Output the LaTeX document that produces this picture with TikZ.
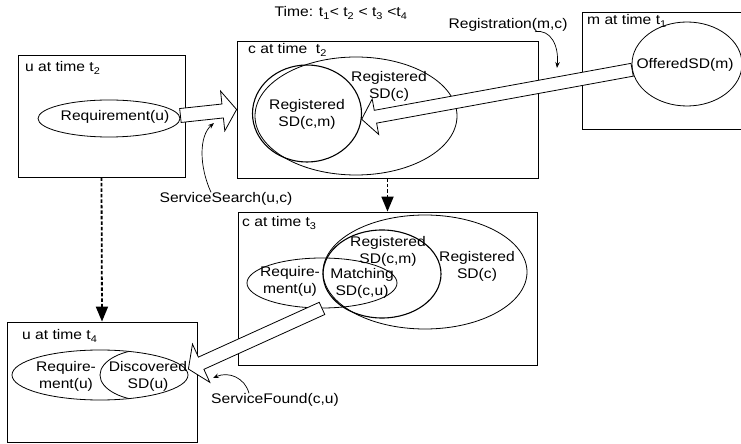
\documentclass[tikz,border=0pt]{standalone}
\usepackage{fontspec}
\setmainfont{Liberation Sans}[FakeStretch=1.12]
\usetikzlibrary{shapes.geometric,arrows.meta,calc}

% Broad hollow arrow: tail, tip, shaft half width, head half width, head length
\newcommand\fatarrow[5]{%
  \coordinate (fa-s) at #1;
  \coordinate (fa-e) at #2;
  \coordinate (fa-h) at ($(fa-e)!#5!(fa-s)$);
  \draw[hollow] ($(fa-s)!#3!90:(fa-e)$) -- ($(fa-h)!#3!90:(fa-e)$)
    -- ($(fa-h)!#4!90:(fa-e)$) -- (fa-e) -- ($(fa-h)!#4!-90:(fa-e)$)
    -- ($(fa-h)!#3!-90:(fa-e)$) -- ($(fa-s)!#3!-90:(fa-e)$) -- cycle;
}

\begin{document}
\begin{tikzpicture}[x=1bp,y=-1bp,
  font=\fontsize{14}{17}\selectfont,
  frame/.style={draw, line width=0.8bp, inner sep=0},
  blob/.style={ellipse, draw, line width=0.8bp, inner sep=0},
  hollow/.style={draw, fill=white, line width=0.8bp, line join=miter},
  lbl/.style={inner sep=0, align=center},
  boxlbl/.style={inner sep=0, anchor=west},
  dasharrow/.style={line width=1.8bp, dash pattern=on 3.5bp off 2bp,
    -{Triangle[width=12bp,length=15bp]}},
  thinarrow/.style={line width=0.7bp, -{Stealth[length=6bp,width=4.5bp]}}]

\useasboundingbox (0,0) rectangle (741,444);

% ---- containers ----
\node[frame, minimum width=167bp, minimum height=122bp] (ut2) at (101.5,116) {};
\node[frame, minimum width=301bp, minimum height=137bp] (ct2) at (387.5,109.5) {};
\node[frame, minimum width=299bp, minimum height=153bp] (ct3) at (387.5,288.5) {};
\node[frame, minimum width=190bp, minimum height=120bp] (ut4) at (102,382) {};
\coordinate (mt1) at (582,12);
\draw[line width=0.8bp] (741,12) -| (582,129) -- (741,129);

% ---- sets ----
\node[blob, minimum width=142bp, minimum height=37bp] (req2) at (109,118.5) {};
\node[blob, minimum width=202bp, minimum height=118bp] (regc2) at (356,116) {};
\node[blob, line width=1.1bp, minimum width=109bp, minimum height=97bp] (regcm2) at (307,113.5) {};
\node[blob, minimum width=110bp, minimum height=84bp] (offered) at (687,64) {};

\node[blob, minimum width=204bp, minimum height=114bp] (regc3) at (425,272) {};
\node[blob, line width=1.1bp, minimum width=118bp, minimum height=88bp] (regcm3) at (382,274) {};
\node[blob, minimum width=150bp, minimum height=50bp] (req3) at (322,283) {};

\node[blob, minimum width=176bp, minimum height=50bp] (req4) at (100,375) {};
\begin{scope}
  \clip (100,375) ellipse [x radius=88, y radius=25];
  \node[blob, minimum width=100bp, minimum height=52bp] (disc4) at (150,375) {};
\end{scope}

% ---- dotted transitions ----
\draw[dasharrow] (ut2.south) -- (ut4.north);
\draw[dasharrow] (ct2.south) -- (ct3.north);

% ---- broad message arrows ----
\fatarrow{([yshift=3bp]req2.east)}{(ct2.west)}{7bp}{20bp}{14bp}
\fatarrow{(offered.186)}{(regcm2.-6)}{6.5bp}{18bp}{14bp}
\fatarrow{(req3.south)}{([yshift=6bp]req4.east)}{6.7bp}{21bp}{14bp}

% ---- texts ----
\node[lbl] at (341,13) {Time: t\textsubscript{1}< t\textsubscript{2} < t\textsubscript{3} <t\textsubscript{4}};
\node[boxlbl] (lut2) at (25,68) {u at time t\textsubscript{2}};
\node[boxlbl] (lct2) at (248,50) {c at time\ \ t\textsubscript{2}};
\node[boxlbl] (lmt1) at (587,21) {m at time t\textsubscript{1}};
\node[boxlbl] (lct3) at (242,223) {c at time t\textsubscript{3}};
\node[boxlbl] (lut4) at (22,336) {u at time t\textsubscript{4}};

\node[lbl] (treq2) at (115,117) {Requirement(u)};
\node[lbl] (tregc2) at (389,86) {Registered\\SD(c)};
\node[lbl] (tregcm2) at (307,114.5) {Registered\\SD(c,m)};
\node[lbl] (toff) at (685,65) {OfferedSD(m)};

\node[lbl] (tregcm3) at (388,251.5) {Registered\\SD(c,m)};
\node[lbl] (tregc3) at (477,266.5) {Registered\\SD(c)};
\node[lbl] (treq3) at (290,281) {Require-\\ment(u)};
\node[lbl] (tmatch) at (362,283.5) {Matching\\SD(c,u)};

\node[lbl] (treq4) at (66,376) {Require-\\ment(u)};
\node[lbl] (tdisc4) at (148,376) {Discovered\\SD(u)};

% ---- message names ----
\node[lbl] (reglbl) at (508,25) {Registration(m,c)};
\node[lbl] (sslbl) at (226,199) {ServiceSearch(u,c)};
\node[lbl] (sflbl) at (275,400) {ServiceFound(c,u)};

\coordinate (regtip) at (557,68);
\coordinate (sstip) at (214,123);
\coordinate (sftip) at (213,378);
\draw[thinarrow] ([xshift=27bp]reglbl.south) .. controls (551,29) and (559,46) .. (regtip);
\draw[thinarrow] ([xshift=-15bp]sslbl.north) .. controls (199,166) and (199,136) .. (sstip);
\draw[thinarrow] ([xshift=-26bp]sflbl.north) .. controls (245,378) and (229,371) .. (sftip);

\end{tikzpicture}
\end{document}
